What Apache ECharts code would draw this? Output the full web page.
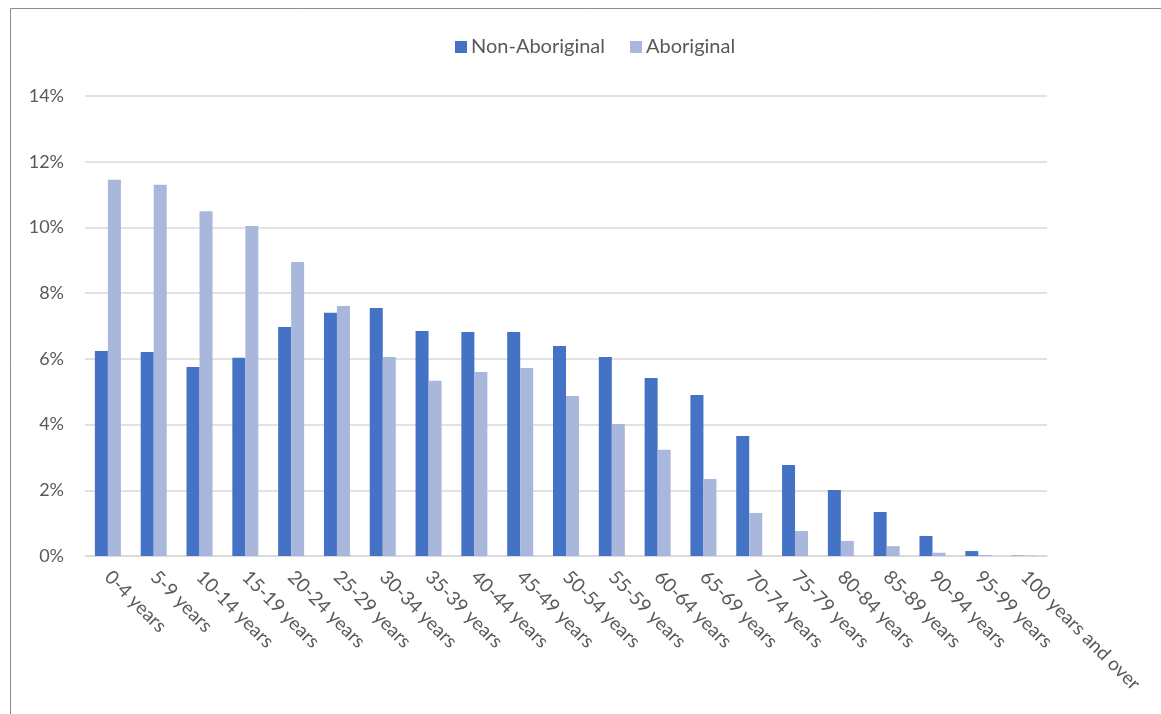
<!DOCTYPE html>
<html>
<head>
<meta charset="utf-8">
<script src="https://cdn.jsdelivr.net/npm/echarts@6/dist/echarts.min.js"></script>
<style>
  html, body { margin: 0; padding: 0; background: #ffffff; }
  #chart { width: 1161px; height: 714px; }
</style>
</head>
<body>
<div id="chart"></div>
<script>
// Age groups on the category axis
const ageGroups = [
  '0-4 years', '5-9 years', '10-14 years', '15-19 years', '20-24 years',
  '25-29 years', '30-34 years', '35-39 years', '40-44 years', '45-49 years',
  '50-54 years', '55-59 years', '60-64 years', '65-69 years', '70-74 years',
  '75-79 years', '80-84 years', '85-89 years', '90-94 years', '95-99 years',
  '100 years and over'
];

// Share of each population in each age group (%)
const nonAboriginal = [
  6.24, 6.21, 5.75, 6.03, 6.97, 7.40, 7.55, 6.85, 6.82, 6.82,
  6.39, 6.06, 5.42, 4.90, 3.65, 2.77, 2.01, 1.34, 0.61, 0.15, 0.01
];
const aboriginal = [
  11.45, 11.30, 10.49, 10.04, 8.95, 7.61, 6.06, 5.33, 5.60, 5.72,
  4.87, 4.02, 3.23, 2.34, 1.31, 0.76, 0.46, 0.30, 0.10, 0.03, 0.01
];

// Y-axis range and step (%)
const yMin = 0, yMax = 14, yStep = 2;

const textColor = '#595959';
const fontFamily = 'Lato, "Open Sans", sans-serif';

const chart = echarts.init(document.getElementById('chart'), null, { renderer: 'canvas' });

chart.setOption({
  animation: false,
  backgroundColor: '#ffffff',
  textStyle: { fontFamily: fontFamily, color: textColor },
  graphic: [{
    type: 'rect',
    shape: { x: 10.5, y: 8.5, width: 1300, height: 900 },
    style: { fill: 'none', stroke: '#8c8c8c', lineWidth: 1 },
    silent: true,
    z: -1
  }],
  legend: {
    top: 32,
    left: 450,
    itemWidth: 12,
    itemHeight: 12,
    itemGap: 25,
    icon: 'rect',
    textStyle: { fontSize: 20, color: textColor, fontFamily: fontFamily, padding: [0, 0, 0, -1] },
    data: ['Non-Aboriginal', 'Aboriginal']
  },
  grid: {
    left: 85,
    right: 114,
    top: 96,
    bottom: 158,
    containLabel: false
  },
  xAxis: {
    type: 'category',
    data: ageGroups,
    axisLine: { show: true, lineStyle: { color: '#d9d9d9', width: 1.5 } },
    axisTick: { show: false },
    axisLabel: {
      interval: 0,
      rotate: -45,
      margin: 18,
      fontSize: 19,
      color: textColor,
      fontFamily: fontFamily
    }
  },
  yAxis: {
    type: 'value',
    min: yMin,
    max: yMax,
    interval: yStep,
    axisLine: { show: false },
    axisTick: { show: false },
    splitLine: { lineStyle: { color: '#d9d9d9', width: 1.5 } },
    axisLabel: {
      formatter: v => v + '%',
      margin: 21,
      fontSize: 18,
      color: textColor,
      fontFamily: fontFamily
    }
  },
  series: [
    {
      name: 'Non-Aboriginal',
      type: 'bar',
      data: nonAboriginal,
      barWidth: 13,
      barGap: '0%',
      itemStyle: { color: '#4472C4' }
    },
    {
      name: 'Aboriginal',
      type: 'bar',
      data: aboriginal,
      barWidth: 13,
      barGap: '0%',
      itemStyle: { color: '#A9B7DC' }
    }
  ]
});
</script>
</body>
</html>
